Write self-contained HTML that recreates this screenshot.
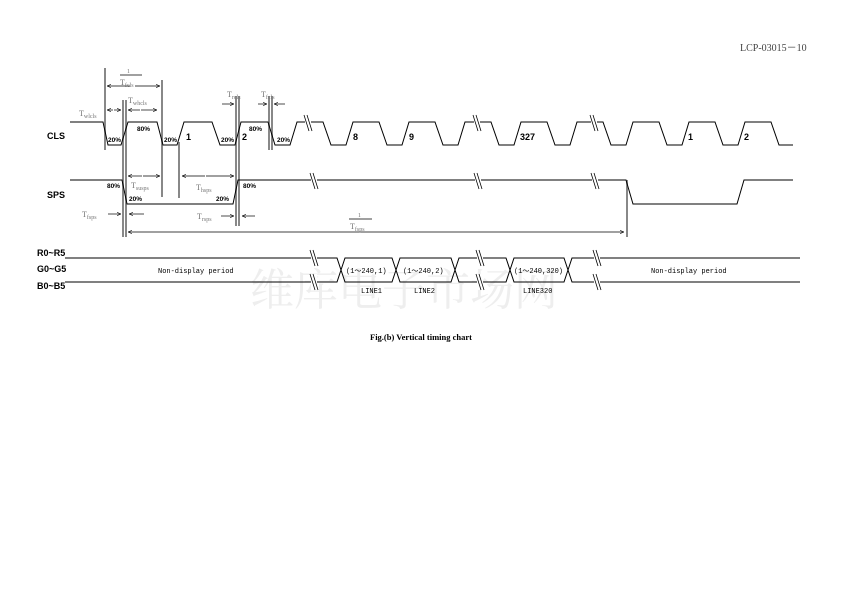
<!DOCTYPE html>
<html><head><meta charset="utf-8"><style>
html,body{margin:0;padding:0;background:#fff}
svg{display:block}
.b{font-family:"Liberation Sans",sans-serif;font-weight:bold;font-size:9px;fill:#000}
.m{font-family:"Liberation Mono",monospace;font-size:7px;fill:#000}
.g{font-family:"Liberation Serif",serif;font-size:8px;fill:#777}
.s{font-family:"Liberation Serif",serif;font-size:6px;fill:#777}
</style></head><body>
<svg width="842" height="595" viewBox="0 0 842 595" xmlns="http://www.w3.org/2000/svg">
<defs>
<marker id="a" markerWidth="6" markerHeight="6" refX="6" refY="3" orient="auto"><path d="M0,0.5 L6,3 L0,5.5" fill="none" stroke="#000" stroke-width="0.8"/></marker>
</defs>
<text x="740" y="51" font-family="Liberation Serif,serif" font-size="10" fill="#444">LCP-03015－10</text>
<text x="250" y="305" font-family="Liberation Serif,'Noto Serif CJK SC',serif" font-size="44" fill="#eee">维库电子市场网</text>

<!-- labels -->
<text class="b" x="47" y="139">CLS</text>
<text class="b" x="47" y="198">SPS</text>
<text class="b" x="37" y="256">R0~R5</text>
<text class="b" x="37" y="272">G0~G5</text>
<text class="b" x="37" y="289">B0~B5</text>

<!-- gray vertical lines -->
<g stroke="#888" stroke-width="2">
<line x1="105" y1="68" x2="105" y2="150"/>
<line x1="123" y1="100" x2="123" y2="237"/>
<line x1="126" y1="100" x2="126" y2="237"/>
<line x1="162" y1="80" x2="162" y2="197"/>
<line x1="179" y1="142" x2="179" y2="198"/>
<line x1="236" y1="96" x2="236" y2="226"/>
<line x1="239" y1="96" x2="239" y2="226"/>
<line x1="269" y1="96" x2="269" y2="150"/>
<line x1="272" y1="96" x2="272" y2="150"/>
<line x1="627" y1="180" x2="627" y2="237"/>
</g>

<g fill="none" stroke="#000" stroke-width="1">
<path d="M70,122 L103,122 L108,145 L121,145 L128,122 L157,122 L163,145 L177,145 L184,122 L212,122 L220,145 L235,145 L241,122 L268,122 L275,145 L290,145 L297,122 L323,122 L331,145 L346,145 L353,122 L379,122 L387,145 L402,145 L409,122 L435,122 L443,145 L458,145 L465,122 L491,122 L499,145 L514,145 L521,122 L547,122 L555,145 L570,145 L577,122 L603,122 L611,145 L626,145 L633,122 L659,122 L667,145 L682,145 L689,122 L715,122 L723,145 L738,145 L745,122 L771,122 L779,145 L793,145"/>
<path d="M70,180 L122,180 L127,204 L233,204 L238,180 L626,180 L633,204 L737,204 L744,180 L793,180"/>
<!-- bus -->
<path d="M65,258 L337,258 L345,282 L392,282 L400,258 L451,258 L459,282 L506,282 L514,258 L564,258 L572,282 L800,282"/>
<path d="M65,282 L337,282 L345,258 L392,258 L400,282 L451,282 L459,258 L506,258 L514,282 L564,282 L572,258 L800,258"/>
</g>

<!-- break marks -->
<g stroke="#000" stroke-width="0.8">
<g transform="translate(308,123)"><rect x="-3" y="-8" width="6" height="16" fill="#fff" stroke="none"/><line x1="-4" y1="-8" x2="1" y2="8"/><line x1="-1" y1="-8" x2="4" y2="8"/></g>
<g transform="translate(477,123)"><rect x="-3" y="-8" width="6" height="16" fill="#fff" stroke="none"/><line x1="-4" y1="-8" x2="1" y2="8"/><line x1="-1" y1="-8" x2="4" y2="8"/></g>
<g transform="translate(594,123)"><rect x="-3" y="-8" width="6" height="16" fill="#fff" stroke="none"/><line x1="-4" y1="-8" x2="1" y2="8"/><line x1="-1" y1="-8" x2="4" y2="8"/></g>
<g transform="translate(314,181)"><rect x="-3" y="-8" width="6" height="16" fill="#fff" stroke="none"/><line x1="-4" y1="-8" x2="1" y2="8"/><line x1="-1" y1="-8" x2="4" y2="8"/></g>
<g transform="translate(478,181)"><rect x="-3" y="-8" width="6" height="16" fill="#fff" stroke="none"/><line x1="-4" y1="-8" x2="1" y2="8"/><line x1="-1" y1="-8" x2="4" y2="8"/></g>
<g transform="translate(595,181)"><rect x="-3" y="-8" width="6" height="16" fill="#fff" stroke="none"/><line x1="-4" y1="-8" x2="1" y2="8"/><line x1="-1" y1="-8" x2="4" y2="8"/></g>
<g transform="translate(314,258)"><rect x="-3" y="-8" width="6" height="16" fill="#fff" stroke="none"/><line x1="-4" y1="-8" x2="1" y2="8"/><line x1="-1" y1="-8" x2="4" y2="8"/></g>
<g transform="translate(314,282)"><rect x="-3" y="-8" width="6" height="16" fill="#fff" stroke="none"/><line x1="-4" y1="-8" x2="1" y2="8"/><line x1="-1" y1="-8" x2="4" y2="8"/></g>
<g transform="translate(480,258)"><rect x="-3" y="-8" width="6" height="16" fill="#fff" stroke="none"/><line x1="-4" y1="-8" x2="1" y2="8"/><line x1="-1" y1="-8" x2="4" y2="8"/></g>
<g transform="translate(480,282)"><rect x="-3" y="-8" width="6" height="16" fill="#fff" stroke="none"/><line x1="-4" y1="-8" x2="1" y2="8"/><line x1="-1" y1="-8" x2="4" y2="8"/></g>
<g transform="translate(597,258)"><rect x="-3" y="-8" width="6" height="16" fill="#fff" stroke="none"/><line x1="-4" y1="-8" x2="1" y2="8"/><line x1="-1" y1="-8" x2="4" y2="8"/></g>
<g transform="translate(597,282)"><rect x="-3" y="-8" width="6" height="16" fill="#fff" stroke="none"/><line x1="-4" y1="-8" x2="1" y2="8"/><line x1="-1" y1="-8" x2="4" y2="8"/></g>
</g>

<!-- arrows -->
<g stroke="#000" stroke-width="0.7" fill="none">
<line x1="130" y1="86" x2="107" y2="86" marker-end="url(#a)"/><line x1="135" y1="86" x2="160" y2="86" marker-end="url(#a)"/>
<line x1="113" y1="110" x2="107" y2="110" marker-end="url(#a)"/><line x1="114" y1="110" x2="121" y2="110" marker-end="url(#a)"/>
<line x1="140" y1="110" x2="128" y2="110" marker-end="url(#a)"/><line x1="141" y1="110" x2="157" y2="110" marker-end="url(#a)"/>
<line x1="222" y1="104" x2="234" y2="104" marker-end="url(#a)"/><line x1="258" y1="104" x2="267" y2="104" marker-end="url(#a)"/><line x1="285" y1="104" x2="274" y2="104" marker-end="url(#a)"/>
<line x1="142" y1="176" x2="128" y2="176" marker-end="url(#a)"/><line x1="143" y1="176" x2="160" y2="176" marker-end="url(#a)"/>
<line x1="205" y1="176" x2="182" y2="176" marker-end="url(#a)"/><line x1="206" y1="176" x2="234" y2="176" marker-end="url(#a)"/>
<line x1="108" y1="214" x2="121" y2="214" marker-end="url(#a)"/><line x1="144" y1="214" x2="129" y2="214" marker-end="url(#a)"/>
<line x1="221" y1="216" x2="234" y2="216" marker-end="url(#a)"/><line x1="255" y1="216" x2="242" y2="216" marker-end="url(#a)"/>
<line x1="370" y1="232" x2="128" y2="232" marker-end="url(#a)"/><line x1="370" y1="232" x2="624" y2="232" marker-end="url(#a)"/>
<line x1="120" y1="75" x2="142" y2="75"/>
<line x1="349" y1="219" x2="372" y2="219"/>
</g>

<g class="g">
<text x="127" y="73" font-size="6">1</text>
<text x="120" y="85">T<tspan class="s" dy="2">fcls</tspan></text>
<text x="79" y="116">T<tspan class="s" dy="2">wlcls</tspan></text>
<text x="128" y="103">T<tspan class="s" dy="2">whcls</tspan></text>
<text x="227" y="97">T<tspan class="s" dy="2">rcls</tspan></text>
<text x="261" y="97">T<tspan class="s" dy="2">fcls</tspan></text>
<text x="131" y="188">T<tspan class="s" dy="2">susps</tspan></text>
<text x="196" y="190">T<tspan class="s" dy="2">hsps</tspan></text>
<text x="82" y="217">T<tspan class="s" dy="2">fsps</tspan></text>
<text x="197" y="219">T<tspan class="s" dy="2">rsps</tspan></text>
<text x="358" y="217" font-size="6">1</text>
<text x="350" y="229">T<tspan class="s" dy="2">fsps</tspan></text>
</g>

<g font-family="Liberation Sans,sans-serif" font-size="6.5" font-weight="bold" fill="#000">
<text x="108" y="142">20%</text><text x="137" y="131">80%</text><text x="164" y="142">20%</text>
<text x="221" y="142">20%</text><text x="249" y="131">80%</text><text x="277" y="142">20%</text>
<text x="107" y="188">80%</text><text x="129" y="201">20%</text><text x="216" y="201">20%</text><text x="243" y="188">80%</text>
</g>
<g class="b" font-size="10">
<text x="186" y="140">1</text><text x="242" y="140">2</text><text x="353" y="140">8</text><text x="409" y="140">9</text>
<text x="520" y="140">327</text><text x="688" y="140">1</text><text x="744" y="140">2</text>
</g>

<g class="m">
<text x="158" y="273">Non-display period</text>
<text x="346" y="273">(1～240,1)</text>
<text x="403" y="273">(1～240,2)</text>
<text x="514" y="273">(1～240,320)</text>
<text x="651" y="273">Non-display period</text>
<text x="361" y="293">LINE1</text>
<text x="414" y="293">LINE2</text>
<text x="523" y="293">LINE320</text>
</g>

<text x="421" y="340" text-anchor="middle" font-family="Liberation Serif,serif" font-weight="bold" font-size="8.5">Fig.(b) Vertical timing chart</text>
</svg>
</body></html>
